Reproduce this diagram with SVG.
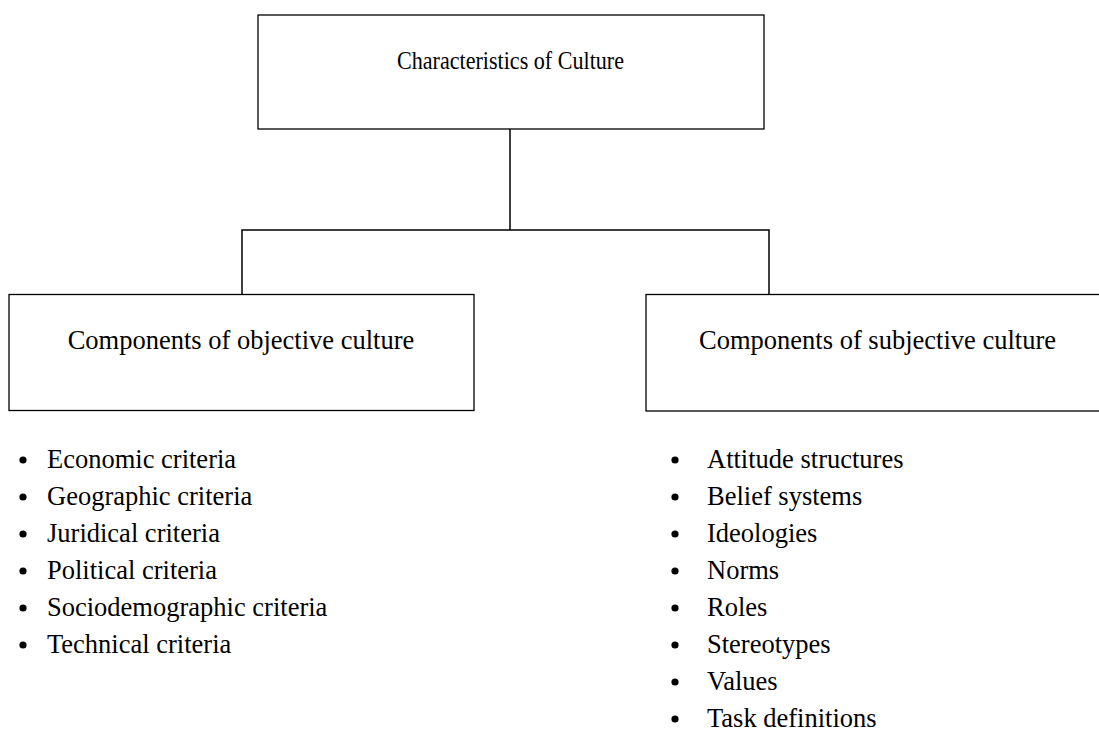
<svg xmlns="http://www.w3.org/2000/svg" width="1099" height="731" viewBox="0 0 1099 731">
<style>
.box{fill:#fff;stroke:#000;stroke-width:1.3}
.ln{fill:none;stroke:#000;stroke-width:1.5}
text{font-family:"Liberation Serif","Times New Roman",serif;font-size:26.5px;fill:#000}
.c{text-anchor:middle}
.b{fill:#000}
</style>
<rect width="1099" height="731" fill="#fff"/>
<g id="connectors">
<path class="ln" d="M510,129 V230 M242,295 V230 H769 V295"/>
</g>
<g id="root">
<rect class="box" x="258" y="15" width="506" height="114"/>
<text x="397" y="69" style="font-size:26px" textLength="227" lengthAdjust="spacingAndGlyphs">Characteristics of Culture</text>
</g>
<g id="objective">
<rect class="box" x="9" y="294.5" width="465" height="116"/>
<text class="c" x="241" y="349">Components of objective culture</text>
</g>
<g id="subjective">
<rect class="box" x="646" y="294.5" width="470" height="116.5"/>
<text class="c" x="877.5" y="349">Components of subjective culture</text>
</g>
<g id="objective-list">
<circle class="b" cx="23" cy="460" r="3.6"/><text x="47" y="468">Economic criteria</text>
<circle class="b" cx="23" cy="497" r="3.6"/><text x="47" y="505">Geographic criteria</text>
<circle class="b" cx="23" cy="534" r="3.6"/><text x="47" y="542">Juridical criteria</text>
<circle class="b" cx="23" cy="571" r="3.6"/><text x="47" y="579">Political criteria</text>
<circle class="b" cx="23" cy="608" r="3.6"/><text x="47" y="616">Sociodemographic criteria</text>
<circle class="b" cx="23" cy="645" r="3.6"/><text x="47" y="653">Technical criteria</text>
</g>
<g id="subjective-list">
<circle class="b" cx="675" cy="460" r="3.6"/><text x="707" y="468">Attitude structures</text>
<circle class="b" cx="675" cy="497" r="3.6"/><text x="707" y="505">Belief systems</text>
<circle class="b" cx="675" cy="534" r="3.6"/><text x="707" y="542">Ideologies</text>
<circle class="b" cx="675" cy="571" r="3.6"/><text x="707" y="579">Norms</text>
<circle class="b" cx="675" cy="608" r="3.6"/><text x="707" y="616">Roles</text>
<circle class="b" cx="675" cy="645" r="3.6"/><text x="707" y="653">Stereotypes</text>
<circle class="b" cx="675" cy="682" r="3.6"/><text x="707" y="690">Values</text>
<circle class="b" cx="675" cy="719" r="3.6"/><text x="707" y="727">Task definitions</text>
</g>
</svg>
